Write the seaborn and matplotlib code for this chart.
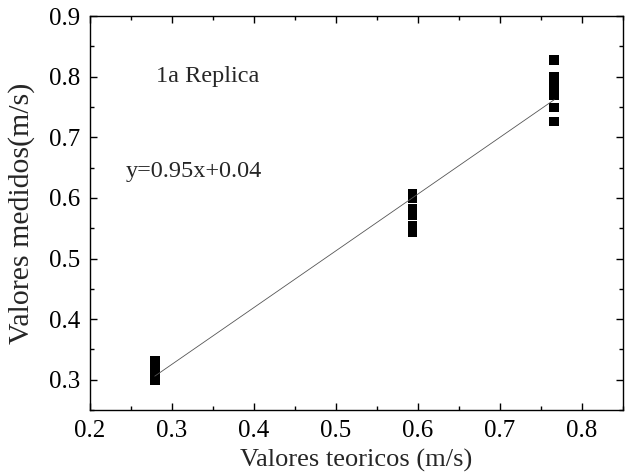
import matplotlib
matplotlib.use("Agg")
import matplotlib.pyplot as plt
import seaborn as sns
import pandas as pd
from matplotlib.ticker import MultipleLocator

# data
teoricos = [0.279] * 6 + [0.593] * 6 + [0.766] * 7
medidos = [0.300, 0.306, 0.312, 0.319, 0.325, 0.332,
           0.544, 0.554, 0.572, 0.582, 0.600, 0.606,
           0.726, 0.749, 0.769, 0.780, 0.790, 0.800, 0.828]
fit_x = [0.279, 0.766]
fit_y = [0.306, 0.762]

df = pd.DataFrame({"x": teoricos, "y": medidos})
fit = pd.DataFrame({"x": fit_x, "y": fit_y})

sns.set_style("ticks")
plt.rcParams["font.family"] = ["Liberation Serif", "DejaVu Serif"]

fig = plt.figure(figsize=(6.25, 4.73), dpi=100)
ax = fig.add_axes([0.144, 0.133, 0.853, 0.833])

sns.lineplot(data=fit, x="x", y="y", color="#555555", linewidth=0.6, ax=ax)
sns.scatterplot(data=df, x="x", y="y", marker="s", s=48, color="black",
                edgecolor="none", ax=ax)

ax.set_xlim(0.2, 0.85)
ax.set_ylim(0.25, 0.9)
ax.xaxis.set_minor_locator(MultipleLocator(0.05))
ax.yaxis.set_minor_locator(MultipleLocator(0.05))
ax.set_xticks([0.2, 0.3, 0.4, 0.5, 0.6, 0.7, 0.8])
ax.set_xticklabels(["0.2", "0.3", "0.4", "0.5", "0.6", "0.7", "0.8"])
ax.set_yticks([0.3, 0.4, 0.5, 0.6, 0.7, 0.8, 0.9])
ax.set_yticklabels(["0.3", "0.4", "0.5", "0.6", "0.7", "0.8", "0.9"])
ax.tick_params(which="both", direction="in", top=True, right=True,
               labelsize=18, colors="black", width=1, pad=7)
ax.tick_params(which="major", length=5)
ax.tick_params(which="minor", length=3)
for s in ax.spines.values():
    s.set_visible(True)
    s.set_color("black")
    s.set_linewidth(1)

ax.set_xlabel("Valores teoricos (m/s)", fontsize=19, labelpad=5)
ax.set_ylabel("Valores medidos(m/s)", fontsize=21.5, labelpad=10)

ax.text(0.281, 0.800, "1a Replica", fontsize=17.5, va="center")
ax.text(0.243, 0.643, "y=0.95x+0.04", fontsize=17.5, va="center")

fig.savefig("out.png", dpi=100)
